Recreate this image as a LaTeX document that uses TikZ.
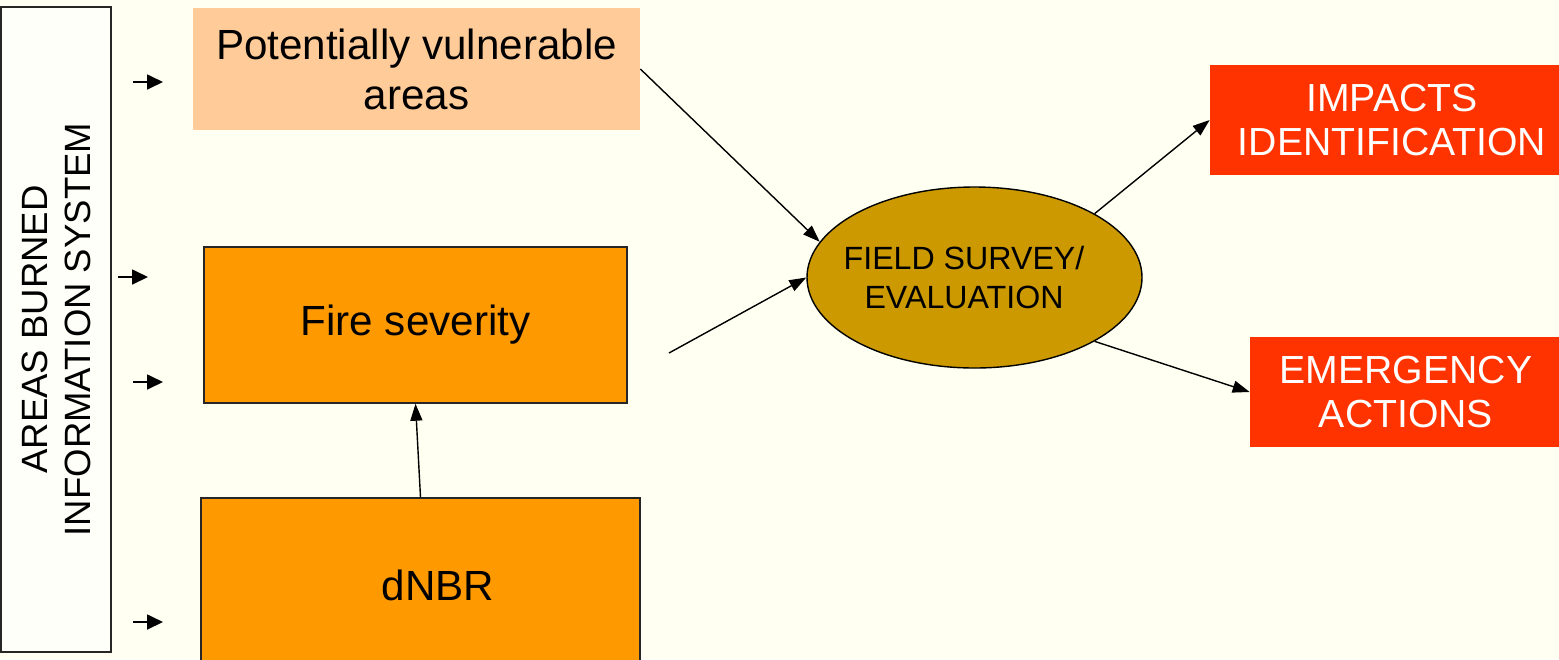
\documentclass[tikz,border=0pt]{standalone}
\usepackage{fontspec}
\setmainfont{Liberation Sans}
\usetikzlibrary{arrows.meta, positioning, shapes.geometric}
\definecolor{bgcream}{RGB}{255, 255, 242}
\definecolor{boxwhite}{RGB}{255, 255, 250}
\definecolor{peach}{RGB}{255, 204, 153}
\definecolor{fireorange}{RGB}{255, 153, 0}
\definecolor{fieldgold}{RGB}{204, 153, 0}
\definecolor{alertred}{RGB}{255, 51, 0}

\begin{document}
\begin{tikzpicture}[
    sysbox/.style={draw=black!85, fill=boxwhite, line width=1.1pt, rotate=90, minimum width=12.9cm, minimum height=2.2cm, align=center, font=\fontsize{20.8}{24.5}\selectfont},
    datalayer/.style={draw=black!85, fill=fireorange, line width=0.8pt, align=center, font=\fontsize{24}{28.5}\selectfont},
    survey/.style={ellipse, draw, fill=fieldgold, line width=0.8pt, inner xsep=-0.4cm, inner ysep=0pt, minimum width=6.7cm, minimum height=3.62cm, align=center, font=\fontsize{18.3}{21.8}\selectfont},
    outcome/.style={fill=alertred, text=white, minimum height=2.2cm, align=center, font=\fontsize{22.3}{25.6}\selectfont},
    arrow/.style={-{Triangle[length=0.34cm, width=0.24cm]}, line width=0.8pt},
    feed/.style={-{Triangle[length=0.32cm, width=0.3cm]}, line width=1pt}
]

% Canvas
\useasboundingbox (0,0) rectangle (31.18,-13.18);
\fill[bgcream] (0,0) rectangle (31.18,-13.18);
\clip (0,0) rectangle (31.18,-13.18);

% Information system
\node[sysbox] (abis) at (1.12,-6.59) {AREAS BURNED\\INFORMATION SYSTEM};

% Inputs
\node[fill=peach, minimum width=8.94cm, minimum height=2.44cm, align=center, font=\fontsize{24}{28.5}\selectfont] (pva) at (8.33,-1.38) {Potentially vulnerable\\areas};
\node[datalayer, minimum width=8.46cm, minimum height=3.12cm] (fire) at (8.31,-6.50) {Fire severity};
\node[datalayer, minimum width=8.78cm, minimum height=3.48cm] (dnbr) at (8.41,-11.70) {\hspace{0.7cm}dNBR};

% Field survey
\node[survey] (fs) at (19.49,-5.55) {FIELD SURVEY/\hspace*{0.42cm}\\EVALUATION\hspace*{0.42cm}};

% Outcomes
\node[outcome, minimum width=7.28cm] (imp) at (27.84,-2.40) {IMPACTS\\IDENTIFICATION};
\node[outcome, minimum width=6.24cm] (emer) at (28.12,-7.84) {EMERGENCY\\ACTIONS};

% Feeds from the information system
\coordinate (feed1) at (2.66,-1.64);
\coordinate (feed2) at (2.36,-5.54);
\coordinate (feed3) at (2.66,-7.64);
\coordinate (feed4) at (2.66,-12.44);
\draw[feed] (feed1) -- ++(0.6,0);
\draw[feed] (feed2) -- ++(0.6,0);
\draw[feed] (feed3) -- ++(0.6,0);
\draw[feed] (feed4) -- ++(0.6,0);

% Flow
\coordinate (sevout) at (13.38,-7.06);
\draw[arrow] (dnbr.north) -- (fire.south);
\draw[arrow] (pva.east) -- (fs.167);
\draw[arrow] (sevout) -- (fs.west);
\draw[arrow] (fs.28.5) -- (imp.west);
\draw[arrow] (fs.-28.5) -- (emer.west);

\end{tikzpicture}
\end{document}
